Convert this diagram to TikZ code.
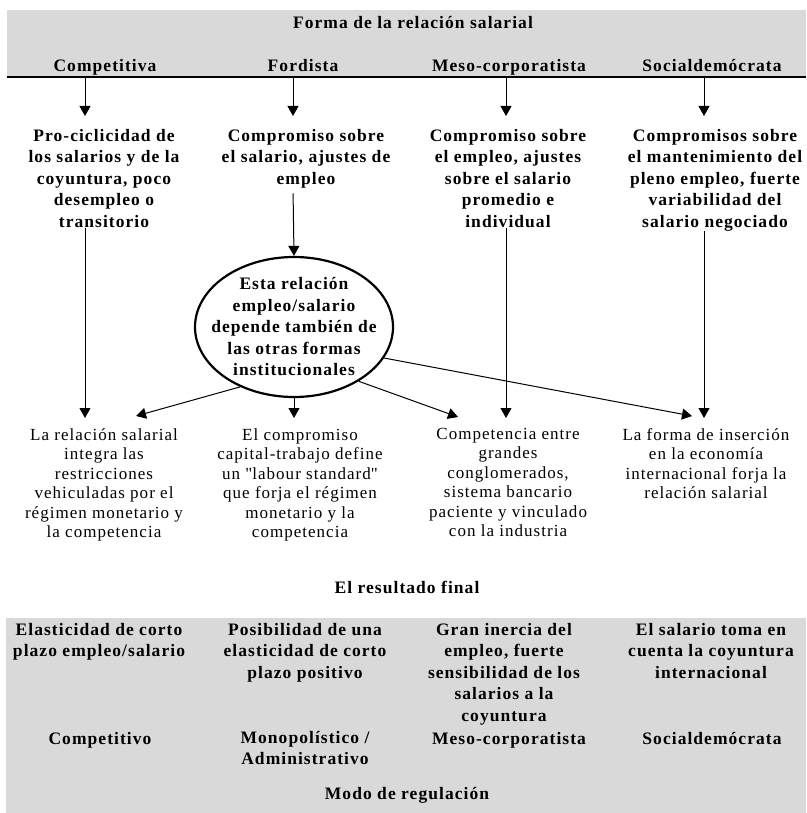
\documentclass[tikz,border=0pt]{standalone}
\usepackage{fontspec}
\setmainfont{Liberation Serif}[LetterSpace=6]
\usetikzlibrary{arrows.meta, shapes.geometric, positioning, calc}
\definecolor{bandgray}{RGB}{217,217,217}

\begin{document}
\begin{tikzpicture}[x=1pt, y=-1pt,
        band/.style={fill=bandgray, draw=none},
        head/.style={font=\bfseries\fontsize{17.5}{21.5}\selectfont, inner sep=0pt, anchor=base},
        cell/.style={align=center, font=\bfseries\fontsize{17.5}{21.5}\selectfont, inner sep=0pt, anchor=north},
        note/.style={align=center, font=\fontsize{17}{19.5}\selectfont, inner sep=0pt, anchor=north},
        hub/.style={ellipse, draw, line width=2.2pt, minimum width=198pt, minimum height=140pt, inner sep=0pt},
        arrow/.style={-{Triangle[length=10pt, width=11pt]}, line width=1pt}
      ]
      \useasboundingbox (0,0) rectangle (806,813);

      % Gray bands
      \fill[band] (7,10) rectangle (806,77);
      \fill[band] (6,618) rectangle (806,813);
      \draw[line width=2.5pt] (7,77) -- (806,77);

      % Header
      \node (title) [head] at (413,29) {Forma de la relación salarial};
      \node (h1) [head] at (105,72) {Competitiva};
      \node (h2) [head] at (303,72) {Fordista};
      \node (h3) [head] at (509,72) {Meso-corporatista};
      \node (h4) [head] at (712,72) {Socialdemócrata};
      \coordinate (l1) at (85,77);
      \coordinate (l2) at (293,77);
      \coordinate (l3) at (506,77);
      \coordinate (l4) at (704,77);

      % Compromises
      \node (top1) [cell] at (104,129) {Pro-ciclicidad de\\los salarios y de la\\coyuntura, poco\\desempleo o\\transitorio};
      \node (top2) [cell] at (306,129) {Compromiso sobre\\el salario, ajustes de\\empleo};
      \node (top3) [cell] at (508,129) {Compromiso sobre\\el empleo, ajustes\\sobre el salario\\promedio e\\individual};
      \node (top4) [cell] at (715,129) {Compromisos sobre\\el mantenimiento del\\pleno empleo, fuerte\\variabilidad del\\salario negociado};

      % Central ellipse
      \node (hub) [hub] at (294,327) {};
      \node (hubtxt) [cell, anchor=center] at (294,327) {Esta relación\\empleo/salario\\depende también de\\las otras formas\\institucionales};

      % Outcomes
      \node (low1) [note] at (104,428) {La relación salarial\\integra las\\restricciones\\vehiculadas por el\\régimen monetario y\\la competencia};
      \node (low2) [note] at (300,428) {El compromiso\\capital-trabajo define\\un \textquotedbl labour standard\textquotedbl\\que forja el régimen\\monetario y la\\competencia};
      \node (low3) [note] at (508,428) {Competencia entre\\grandes\\conglomerados,\\sistema bancario\\paciente y vinculado\\con la industria};
      \node (low4) [note] at (706,428) {La forma de inserción\\en la economía\\internacional forja la\\relación salarial};

      % Arrows
      \draw [arrow, shorten >=13pt] (l1) -- (l1 |- top1.north);
      \draw [arrow, shorten >=13pt] (l2) -- (l2 |- top2.north);
      \draw [arrow, shorten >=13pt] (l3) -- (l3 |- top3.north);
      \draw [arrow, shorten >=13pt] (l4) -- (l4 |- top4.north);
      \draw [arrow, shorten >=10pt] (l1 |- top1.south) -- (l1 |- low1.north);
      \draw [arrow, shorten <=5pt] (l2 |- top2.south) -- (hub.north);
      \draw [arrow, shorten >=10pt] (l3 |- top3.south) -- (l3 |- low3.north);
      \draw [arrow, shorten >=10pt] (l4 |- top4.south) -- (l4 |- low4.north);
      \draw [arrow] (hub.228) -- ([xshift=32pt, yshift=12pt]low1.north);
      \draw [arrow, shorten >=10pt] (hub.south) -- (hub.south |- low2.north);
      \draw [arrow] (hub.320) -- ([xshift=-50pt, yshift=11pt]low3.north);
      \draw [arrow] (hub.341) -- ([xshift=-14pt, yshift=12pt]low4.north);

      % Final result
      \node (result) [head] at (407,593) {El resultado final};
      \node (res1) [cell] at (99,623) {Elasticidad de corto\\plazo empleo/salario};
      \node (res2) [cell] at (305,623) {Posibilidad de una\\elasticidad de corto\\plazo positivo};
      \node (res3) [cell] at (504,623) {Gran inercia del\\empleo, fuerte\\sensibilidad de los\\salarios a la\\coyuntura};
      \node (res4) [cell] at (711,623) {El salario toma en\\cuenta la coyuntura\\internacional};
      \node (mode1) [head] at (100,744) {Competitivo};
      \node (mode2) [cell] at (305,731) {Monopolístico /\\Administrativo};
      \node (mode3) [head] at (509,744) {Meso-corporatista};
      \node (mode4) [head] at (712,744) {Socialdemócrata};
      \node (regul) [head] at (407,799) {Modo de regulación};

    \end{tikzpicture}
\end{document}
